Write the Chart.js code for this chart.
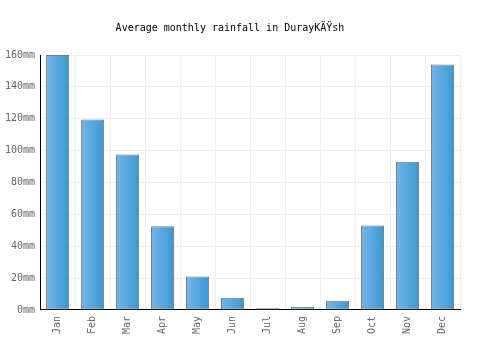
<!DOCTYPE html>
<html><head><meta charset="utf-8">
<script src="https://cdn.jsdelivr.net/npm/chart.js@4"></script>
<style>html,body{margin:0;padding:0;background:#fff}#c{display:block}</style>
</head><body>
<canvas id="c" width="500" height="350"></canvas>
<script>
const categories = ["Jan","Feb","Mar","Apr","May","Jun","Jul","Aug","Sep","Oct","Nov","Dec"];
const rainfall = [160, 119.5, 97.5, 52.5, 21, 7.6, 1.0, 2, 5.7, 53, 93, 154];
const yTicks = [0, 20, 40, 60, 80, 100, 120, 140, 160];
const titleText = "Average monthly rainfall in DurayKÄŸsh";

const FONT = "'DejaVu Sans Mono', monospace";
const gradientPlugin = {
  id: 'barGradient',
  beforeDatasetsDraw(chart) {
    const ctx = chart.ctx;
    chart.getSortedVisibleDatasetMetas().forEach(meta => {
      meta.data.forEach(el => {
        const g = ctx.createLinearGradient(el.x - el.width/2, 0, el.x + el.width/2, 0);
        g.addColorStop(0, '#74b6ea');
        g.addColorStop(1, '#3a98d2');
        const o = Object.create(el.options);
        o.backgroundColor = g;
        el.options = o;
      });
    });
  }
};
new Chart(document.getElementById('c'), {
  type: 'bar',
  data: { labels: categories, datasets: [{
    data: rainfall,
    backgroundColor: '#55a5de',
    borderColor: '#7a7a7a',
    borderWidth: 1,
    borderSkipped: false,
    barPercentage: 0.66,
    categoryPercentage: 1.0
  }]},
  plugins: [gradientPlugin],
  options: {
    responsive: false, animation: false,
    layout: { padding: { left: 0, right: 40, top: 0, bottom: 10 } },
    plugins: {
      legend: { display: false }, tooltip: { enabled: false },
      title: { display: true, text: titleText, color: '#000',
        font: { family: FONT, size: 10, weight: 'normal' },
        padding: { top: 22, bottom: 21 } }
    },
    scales: {
      x: {
        grid: { color: '#eeeeee', offset: true, drawTicks: false },
        border: { color: '#000', width: 1 },
        ticks: { color: '#666', font: { family: FONT, size: 10 }, minRotation: 90, maxRotation: 90, padding: 6 }
      },
      y: {
        min: 0, max: 160,
        afterBuildTicks: (s) => { s.ticks = yTicks.map(v => ({ value: v })); },
        grid: { color: '#eeeeee', drawTicks: false },
        border: { color: '#000', width: 1 },
        ticks: { color: '#666', font: { family: FONT, size: 10 }, padding: 5, callback: v => v + 'mm' }
      }
    }
  }
});
</script>
</body></html>
